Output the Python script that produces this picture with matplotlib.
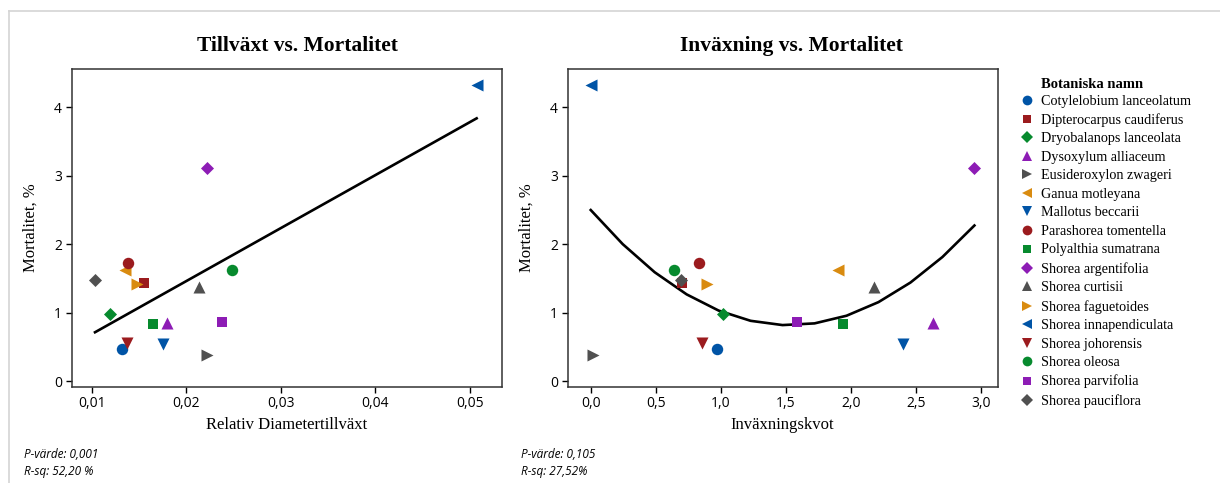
import matplotlib
matplotlib.use("Agg")
import matplotlib.pyplot as plt
from matplotlib.lines import Line2D
import numpy as np

# Art, relativ diametertillväxt, inväxningskvot, mortalitet (%)
namn = ["Cotylelobium lanceolatum", "Dipterocarpus caudiferus", "Dryobalanops lanceolata",
        "Dysoxylum alliaceum", "Eusideroxylon zwageri", "Ganua motleyana",
        "Mallotus beccarii", "Parashorea tomentella", "Polyalthia sumatrana",
        "Shorea argentifolia", "Shorea curtisii", "Shorea faguetoides",
        "Shorea innapendiculata", "Shorea johorensis", "Shorea oleosa",
        "Shorea parvifolia", "Shorea pauciflora"]
tillvaxt = [0.01317, 0.01557, 0.01197, 0.01793, 0.02216, 0.01356, 0.01754, 0.01384, 0.01648,
            0.02216, 0.02138, 0.01476, 0.05070, 0.01370, 0.02480, 0.02374, 0.01035]
invaxning = [0.968, 0.699, 1.015, 2.634, 0.015, 1.898, 2.403, 0.833, 1.937,
             2.949, 2.180, 0.892, 0.000, 0.853, 0.640, 1.583, 0.692]
mortalitet = [0.468, 1.432, 0.974, 0.853, 0.375, 1.627, 0.540, 1.725, 0.833,
              3.108, 1.379, 1.418, 4.326, 0.560, 1.617, 0.867, 1.471]

palett = ["#0054a6", "#9b1b1e", "#078a2e", "#8d1cb5", "#505050", "#d98b10"]
markorer = ["o", "s", "D", "^", ">", "<", "v"]
storlek = {"o": 68, "s": 58, "D": 44, "^": 75, ">": 75, "<": 75, "v": 75}

W, H = 1220, 483
fig = plt.figure(figsize=(W / 100, H / 100), dpi=100)

serif = ["Liberation Serif", "DejaVu Serif"]
sans = ["Open Sans", "DejaVu Sans"]

# grå ram uppe och till vänster
fig.add_artist(Line2D([9 / W, 1], [1 - 11 / H, 1 - 11 / H], color="#d4d4d4", lw=1.2))
fig.add_artist(Line2D([9 / W, 9 / W], [0, 1 - 11 / H], color="#d4d4d4", lw=1.2))


def rita_panel(ax, x, titel, xlabel, titel_x):
    for i in range(len(namn)):
        m = markorer[i % 7]
        ax.scatter(x[i], mortalitet[i], marker=m, s=storlek[m],
                   color=palett[i % 6], linewidths=0, zorder=3)
    ax.set_title(titel, fontsize=15.5, fontweight="bold", family=serif, x=titel_x, pad=13)
    ax.set_xlabel(xlabel, fontsize=12, family=serif)
    ax.set_ylabel("Mortalitet, %", fontsize=12, family=serif)
    ax.xaxis.set_label_coords(0.5, -0.095)
    ax.yaxis.set_label_coords(-0.078, 0.5)
    ax.set_ylim(-0.083, 4.556)
    ax.set_yticks([0, 1, 2, 3, 4])
    ax.tick_params(direction="out", length=4, width=1, labelsize=10, pad=3)
    for lab in ax.get_xticklabels() + ax.get_yticklabels():
        lab.set_family(sans)
    for s in ax.spines.values():
        s.set_linewidth(1.1)
        s.set_color("#333333")


axL = fig.add_axes([71.7 / W, 96.3 / H, 430 / W, 317.4 / H])
rita_panel(axL, tillvaxt, "Tillväxt vs. Mortalitet", "Relativ Diametertillväxt", 0.525)
axL.set_xlim(0.007885, 0.05335)
axL.set_xticks([0.01, 0.02, 0.03, 0.04, 0.05])
axL.set_xticklabels(["0,01", "0,02", "0,03", "0,04", "0,05"], family=sans)
k = np.polyfit(tillvaxt, mortalitet, 1)
xl = np.linspace(min(tillvaxt), max(tillvaxt), 50)
axL.plot(xl, np.polyval(k, xl), color="black", lw=1.9, zorder=2)

axR = fig.add_axes([567.7 / W, 96.3 / H, 430 / W, 317.4 / H])
rita_panel(axR, invaxning, "Inväxning vs. Mortalitet", "Inväxningskvot", 0.52)
axR.set_xlim(-0.177, 3.128)
axR.set_xticks([0, 0.5, 1, 1.5, 2, 2.5, 3])
axR.set_xticklabels(["0,0", "0,5", "1,0", "1,5", "2,0", "2,5", "3,0"], family=sans)
k2 = np.polyfit(invaxning, mortalitet, 2)
xr = np.linspace(min(invaxning), max(invaxning), 13)
axR.plot(xr, np.polyval(k2, xr), color="black", lw=1.9, zorder=2)

# legend
handles = []
for i in range(len(namn)):
    m = markorer[i % 7]
    handles.append(Line2D([], [], ls="", marker=m, markersize=np.sqrt(storlek[m]) * 0.85,
                          markeredgewidth=0, color=palett[i % 6]))
fig.text(1041 / W, 1 - 85 / H, "Botaniska namn", fontsize=10.5, fontweight="bold",
         family=serif, va="center", ha="left")
fig.legend(handles, namn, loc="upper left", bbox_to_anchor=(1020 / W, 1 - 94.5 / H),
           frameon=False, prop={"family": serif, "size": 10.2}, labelspacing=0.39,
           handlelength=1.0, handletextpad=0.5, borderpad=0, borderaxespad=0)

# statistik
stat = {"style": "italic", "family": sans, "fontsize": 8.5, "va": "center"}
fig.text(24 / W, 1 - 455 / H, "P-värde: 0,001", **stat)
fig.text(24 / W, 1 - 472 / H, "R-sq: 52,20 %", **stat)
fig.text(521 / W, 1 - 455 / H, "P-värde: 0,105", **stat)
fig.text(521 / W, 1 - 472 / H, "R-sq: 27,52%", **stat)

fig.savefig("out.png", dpi=100)
